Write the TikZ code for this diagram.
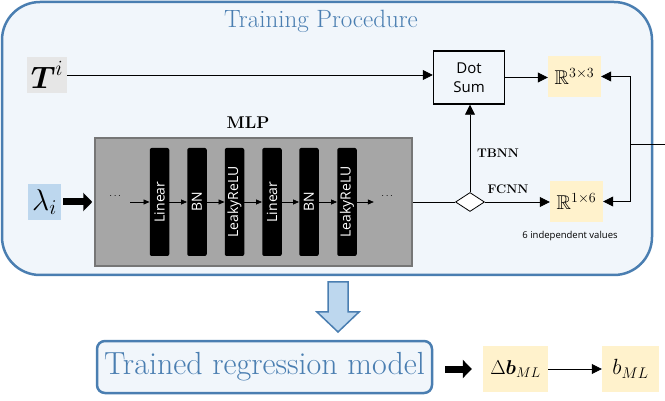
\RequirePackage{fix-cm}
\documentclass[tikz,border=0pt]{standalone}
\usepackage{amsmath}
\usepackage{amssymb}
\usepackage{fontspec}
\usepackage{tikz}
\usetikzlibrary{arrows.meta,positioning,shapes.geometric,calc}
\newfontfamily\uisans{Open Sans}

\definecolor{steel}{RGB}{74,126,177}
\definecolor{paleblue}{RGB}{241,246,251}
\definecolor{skyfill}{RGB}{189,215,238}
\definecolor{cream}{RGB}{255,242,204}
\definecolor{mlpgray}{RGB}{166,166,166}
\definecolor{mlpedge}{RGB}{118,118,118}
\definecolor{tgray}{RGB}{230,230,230}

\begin{document}
\begin{tikzpicture}[x=1pt, y=-1pt,
    mathbox/.style={fill=#1, inner sep=0pt, font=\fontsize{20}{24}\selectfont},
    laybar/.style={fill=black, text=white, rounded corners=2pt, rotate=90,
                   minimum width=108pt, minimum height=19.5pt, inner sep=0pt,
                   font=\uisans\fontsize{14}{14}\selectfont},
    link/.style={-{Triangle[length=10pt, width=10pt]}, line width=0.8pt},
    minilink/.style={-{Triangle[length=6pt, width=5pt]}, line width=0.7pt},
    fatarrow/.style={-{Triangle[length=9pt, width=18pt]}, line width=7pt},
    tag/.style={font=\bfseries\fontsize{12.5}{14}\selectfont},
    note/.style={font=\uisans\fontsize{9.5}{11}\selectfont}
]
\useasboundingbox (0,0) rectangle (665,401);

%% Training procedure frame
\node[draw=steel, line width=2.5pt, fill=paleblue, rounded corners=38pt,
      minimum width=650pt, minimum height=273pt] (train) at (327,138.5) {};
\node[text=steel, font=\fontsize{25}{29}\selectfont] (title) at (321,21) {Training Procedure};

%% Inputs
\node[fill=tgray, inner sep=0pt, minimum width=40pt, minimum height=36pt,
      font=\fontsize{31}{34}\selectfont] (Ti) at (47,75) {$\boldsymbol{T}^{i}$};
\node[fill=skyfill, inner sep=0pt, minimum width=33pt, minimum height=36pt,
      font=\fontsize{30}{32}\selectfont] (lam) at (44.5,202) {$\lambda_{i}$};

%% MLP block
\node[draw=mlpedge, line width=1.5pt, fill=mlpgray, minimum width=317pt,
      minimum height=128pt] (mlp) at (253.5,202) {};
\node[font=\bfseries\fontsize{17}{20}\selectfont] (mlptitle) at (248,123) {MLP};
\node (dotsL) at (116,196) {$\cdots$};
\node[laybar] (lin1) at (159.5,202) {Linear};
\node[laybar] (bn1) at (197,202) {BN};
\node[laybar] (act1) at (234.5,202) {LeakyReLU};
\node[laybar] (lin2) at (272,202) {Linear};
\node[laybar] (bn2) at (309,202) {BN};
\node[laybar] (act2) at (347,202) {LeakyReLU};
\node (dotsR) at (388,196) {$\cdots$};

\draw[minilink] ([xshift=4pt]dotsL.east |- lin1.center) -- (lin1);
\draw[minilink] (lin1) -- (bn1);
\draw[minilink] (bn1) -- (act1);
\draw[minilink] (act1) -- (lin2);
\draw[minilink] (lin2) -- (bn2);
\draw[minilink] (bn2) -- (act2);
\draw[minilink] (act2) -- ([xshift=-4pt]dotsR.west |- act2.center);

%% Heads
\node[diamond, draw, fill=white, line width=0.8pt, aspect=1.5, inner sep=0pt,
      minimum width=29pt, minimum height=19pt] (split) at (470,202) {};
\node[draw, line width=1.5pt, minimum width=71pt, minimum height=53pt, align=center,
      font=\uisans\fontsize{15}{19}\selectfont] (dotsum) at (469,77.5) {Dot\\Sum};
\node[mathbox=cream, minimum width=53pt, minimum height=41pt] (r33) at (574.5,76.5) {$\mathbb{R}^{3\times 3}$};
\node[mathbox=cream, minimum width=53pt, minimum height=41pt] (r16) at (576.5,201.5) {$\mathbb{R}^{1\times 6}$};
\node[tag] (tbnn) at (498,153) {TBNN};
\node[tag] (fcnn) at (508,189) {FCNN};
\node[note] (indep) at (570,236) {6 independent values};
\coordinate (fbin) at (630,144);
\coordinate (fbend) at (665,144);

\draw[fatarrow, shorten <=2pt, shorten >=2pt] (lam.east) -- (mlp.west);
\draw[link] (Ti.east) -- (Ti.east -| dotsum.west);
\draw[link] (dotsum.east) -- (dotsum.east -| r33.west);
\draw[line width=0.8pt] (mlp.east) -- (split.west);
\draw[link] (split.north) -- (split.north |- dotsum.south);
\draw[link] (split.east) -- (split.east -| r16.west);
\draw[line width=0.8pt] (fbend) -- (fbin);
\draw[link] (fbin) |- (r33.east);
\draw[link] (fbin) |- (r16.east);

%% Result
\draw[steel, line width=1.5pt, fill=skyfill] (328,282) -- (348,282) -- (348,312) -- (359,312)
     -- (338,332) -- (317,312) -- (328,312) -- cycle;
\node[draw=steel, line width=2.5pt, fill=paleblue, rounded corners=8pt,
      minimum width=335pt, minimum height=52pt, text=steel,
      font=\fontsize{32}{34}\selectfont] (model) at (264.5,367) {Trained regression model};
\node[mathbox=cream, minimum width=65pt, minimum height=46pt] (dbml) at (515.5,369) {$\Delta\boldsymbol{b}_{ML}$};
\node[mathbox=cream, minimum width=57pt, minimum height=46pt,
      font=\fontsize{22}{26}\selectfont] (bml) at (630.5,369) {$b_{ML}$};

\draw[fatarrow, shorten <=12pt, shorten >=11pt] (model.east |- dbml.center) -- (dbml.west);
\draw[link] (dbml.east) -- (bml.west);

\end{tikzpicture}
\end{document}
